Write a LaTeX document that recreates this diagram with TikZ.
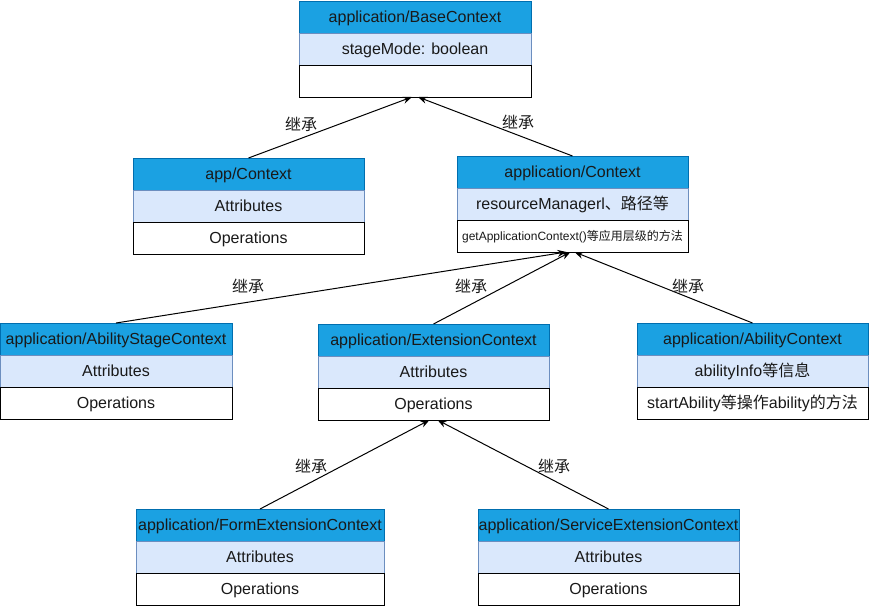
\documentclass[tikz,border=0pt]{standalone}
\usepackage{fontspec}
\setmainfont{Liberation Sans}
\newfontfamily\cjk{Noto Sans CJK SC}
\usetikzlibrary{positioning, arrows.meta, calc}
\definecolor{hdrblue}{HTML}{1BA1E2}
\definecolor{hdrline}{HTML}{006EAF}
\definecolor{attrblue}{HTML}{DAE8FC}
\definecolor{attrline}{HTML}{6C8EBF}

\begin{document}
\begin{tikzpicture}[
x=1pt, y=-1pt,
box/.style={rectangle,
  minimum height=32pt,
  inner sep=0pt, outer sep=0pt,
  line width=1pt,
  text=black!90,
  text height=13pt, text depth=1.5pt,
  font=\fontsize{16}{18}\selectfont
},
hdr/.style={box, fill=hdrblue, draw=hdrline},
attr/.style={box, fill=attrblue, draw=attrline},
ops/.style={box, fill=white, draw=black},
inh/.style={font=\fontsize{16}{18}\selectfont\cjk, text=black!90},
>={Stealth[length=9pt,width=7pt]}
]
\useasboundingbox (0,0) rectangle (869,606);

% top class
\node[hdr, minimum width=232pt] (base) at (415,17)
    {application/BaseContext};
\node[attr, minimum width=232pt, below=0pt of base] (basea)
    {stageMode: boolean};
\node[ops, minimum width=232pt, below=0pt of basea] (baseo)
    {};

% second row
\node[hdr, minimum width=231pt] (appctx) at (248.5,174)
    {app/Context};
\node[attr, minimum width=231pt, below=0pt of appctx] (appctxa)
    {Attributes};
\node[ops, minimum width=231pt, below=0pt of appctxa] (appctxo)
    {Operations};

\node[hdr, minimum width=231pt] (ctx) at (572.5,172)
    {application/Context};
\node[attr, minimum width=231pt, below=0pt of ctx] (ctxa)
    {resourceManagerl{\cjk 、路径等}};
\node[ops, minimum width=231pt, below=0pt of ctxa, font=\fontsize{12}{14}\selectfont, text height=10pt, text depth=1pt] (ctxo)
    {getApplicationContext(){\cjk 等应用层级的方法}};

% third row
\node[hdr, minimum width=232pt] (stage) at (116,339)
    {application/AbilityStageContext};
\node[attr, minimum width=232pt, below=0pt of stage] (stagea)
    {Attributes};
\node[ops, minimum width=232pt, below=0pt of stagea] (stageo)
    {Operations};

\node[hdr, minimum width=231pt] (ext) at (433.5,340)
    {application/ExtensionContext};
\node[attr, minimum width=231pt, below=0pt of ext] (exta)
    {Attributes};
\node[ops, minimum width=231pt, below=0pt of exta] (exto)
    {Operations};

\node[hdr, minimum width=231pt] (ability) at (752.5,339)
    {application/AbilityContext};
\node[attr, minimum width=231pt, below=0pt of ability] (abilitya)
    {abilityInfo{\cjk 等信息}};
\node[ops, minimum width=231pt, below=0pt of abilitya] (abilityo)
    {startAbility{\cjk 等操作}ability{\cjk 的方法}};

% bottom row
\node[hdr, minimum width=248pt] (form) at (260,525)
    {application/FormExtensionContext};
\node[attr, minimum width=248pt, below=0pt of form] (forma)
    {Attributes};
\node[ops, minimum width=248pt, below=0pt of forma] (formo)
    {Operations};

\node[hdr, minimum width=261pt] (service) at (608.5,525)
    {application/ServiceExtensionContext};
\node[attr, minimum width=261pt, below=0pt of service] (servicea)
    {Attributes};
\node[ops, minimum width=261pt, below=0pt of servicea] (serviceo)
    {Operations};

% inheritance
\draw[->,line width=1pt] (appctx.north) -- ([xshift=-3pt]baseo.south);
\draw[->,line width=1pt] (ctx.north) -- ([xshift=3pt]baseo.south);
\draw[->,line width=1pt] (stage.north) -- ([xshift=-6pt]ctxo.south);
\draw[->,line width=1pt] (ext.north) -- ([xshift=-2pt]ctxo.south);
\draw[->,line width=1pt] (ability.north) -- ([xshift=2pt]ctxo.south);
\draw[->,line width=1pt] (form.north) -- ([xshift=-4pt]exto.south);
\draw[->,line width=1pt] (service.north) -- ([xshift=4pt]exto.south);

\node[inh] (inh1) at (301,124) {继承};
\node[inh] (inh2) at (518,122) {继承};
\node[inh] (inh3) at (248,286) {继承};
\node[inh] (inh4) at (471,286) {继承};
\node[inh] (inh5) at (688,286) {继承};
\node[inh] (inh6) at (311,466) {继承};
\node[inh] (inh7) at (554,466) {继承};
\end{tikzpicture}
\end{document}
